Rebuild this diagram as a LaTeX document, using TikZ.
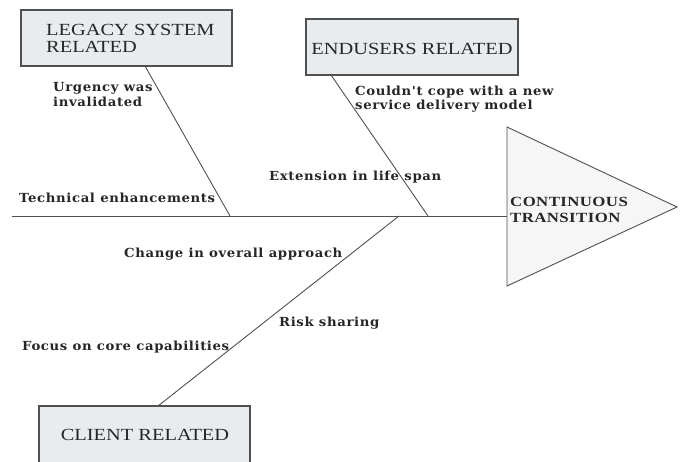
\documentclass[tikz,border=0pt]{standalone}
\usepackage{fontspec}
\setmainfont{DejaVu Serif}
\newfontfamily\lblfont[LetterSpace=5,FakeStretch=1.06]{DejaVu Serif}
\newfontfamily\boxfont[FakeStretch=1.2]{Liberation Serif}
\newfontfamily\headfont[FakeStretch=1.2,LetterSpace=3]{Liberation Serif}
\definecolor{boxfill}{HTML}{E9ECEE}
\definecolor{trifill}{HTML}{F6F6F6}
\definecolor{linec}{HTML}{505050}
\tikzset{
  catbox/.style={draw=linec, line width=1.2pt, fill=boxfill, inner sep=0pt},
  bone/.style={draw=linec, line width=0.9pt},
  lbl/.style={font=\lblfont\bfseries\fontsize{12.5}{14.5}\selectfont, text=black!85, inner sep=0pt, align=left},
  boxtxt/.style={font=\boxfont\fontsize{17}{17}\selectfont, text=black!85, inner sep=0pt, align=left},
  headtxt/.style={font=\headfont\bfseries\fontsize{14}{16}\selectfont, text=black!85, inner sep=0pt, align=left}
}
\begin{document}
\begin{tikzpicture}[x=1pt,y=-1pt]
\useasboundingbox (0,0) rectangle (683,462);
\begin{scope}
\clip (0,0) rectangle (683,462);
% boxes
\node[catbox, minimum width=211pt, minimum height=56pt] (legacy) at (126.5,38) {};
\node[boxtxt, anchor=west] (legacyt) at (46,38.5) {LEGACY SYSTEM\\RELATED};
\node[catbox, minimum width=212pt, minimum height=56pt] (endusers) at (412,47) {};
\node[boxtxt] (enduserst) at (412,49) {ENDUSERS RELATED};
\node[catbox, minimum width=211pt, minimum height=64pt] (client) at (144.5,438) {};
\node[boxtxt] (clientt) at (145,435) {CLIENT RELATED};
% triangle head
\coordinate (tl) at (507,127);
\coordinate (tb) at (507,286);
\coordinate (tt) at (677,207);
\draw[draw=linec, line width=0.9pt, fill=trifill] (tl) -- (tt) -- (tb) -- cycle;
\node[headtxt, anchor=west] (head) at (510,210) {CONTINUOUS\\TRANSITION};
% spine
\coordinate (sstart) at (12,216);
\coordinate (send) at (507,216);
\draw[bone] (sstart) -- (send);
% bones
\coordinate (lj) at (230,216);
\coordinate (ls) at (145,66);
\draw[bone] (ls) -- (lj);
\coordinate (ej) at (428,216);
\coordinate (es) at (331,75);
\draw[bone] (es) -- (ej);
\coordinate (cj) at (399,216);
\coordinate (cs) at (158,406);
\draw[bone] (cj) -- (cs);
% labels
\node[lbl, anchor=west] (u) at (53,94.5) {Urgency was\\invalidated};
\node[lbl, anchor=west] (c) at (355,99) {Couldn't cope with a new\\service delivery model};
\node[lbl, anchor=west] (t) at (19,198) {Technical enhancements};
\node[lbl, anchor=west] (e) at (269,177) {Extension in life span};
\node[lbl, anchor=west] (ch) at (124,254) {Change in overall approach};
\node[lbl, anchor=west] (r) at (279,323) {Risk sharing};
\node[lbl, anchor=west] (f) at (22,347) {Focus on core capabilities};
\end{scope}
\end{tikzpicture}
\end{document}
